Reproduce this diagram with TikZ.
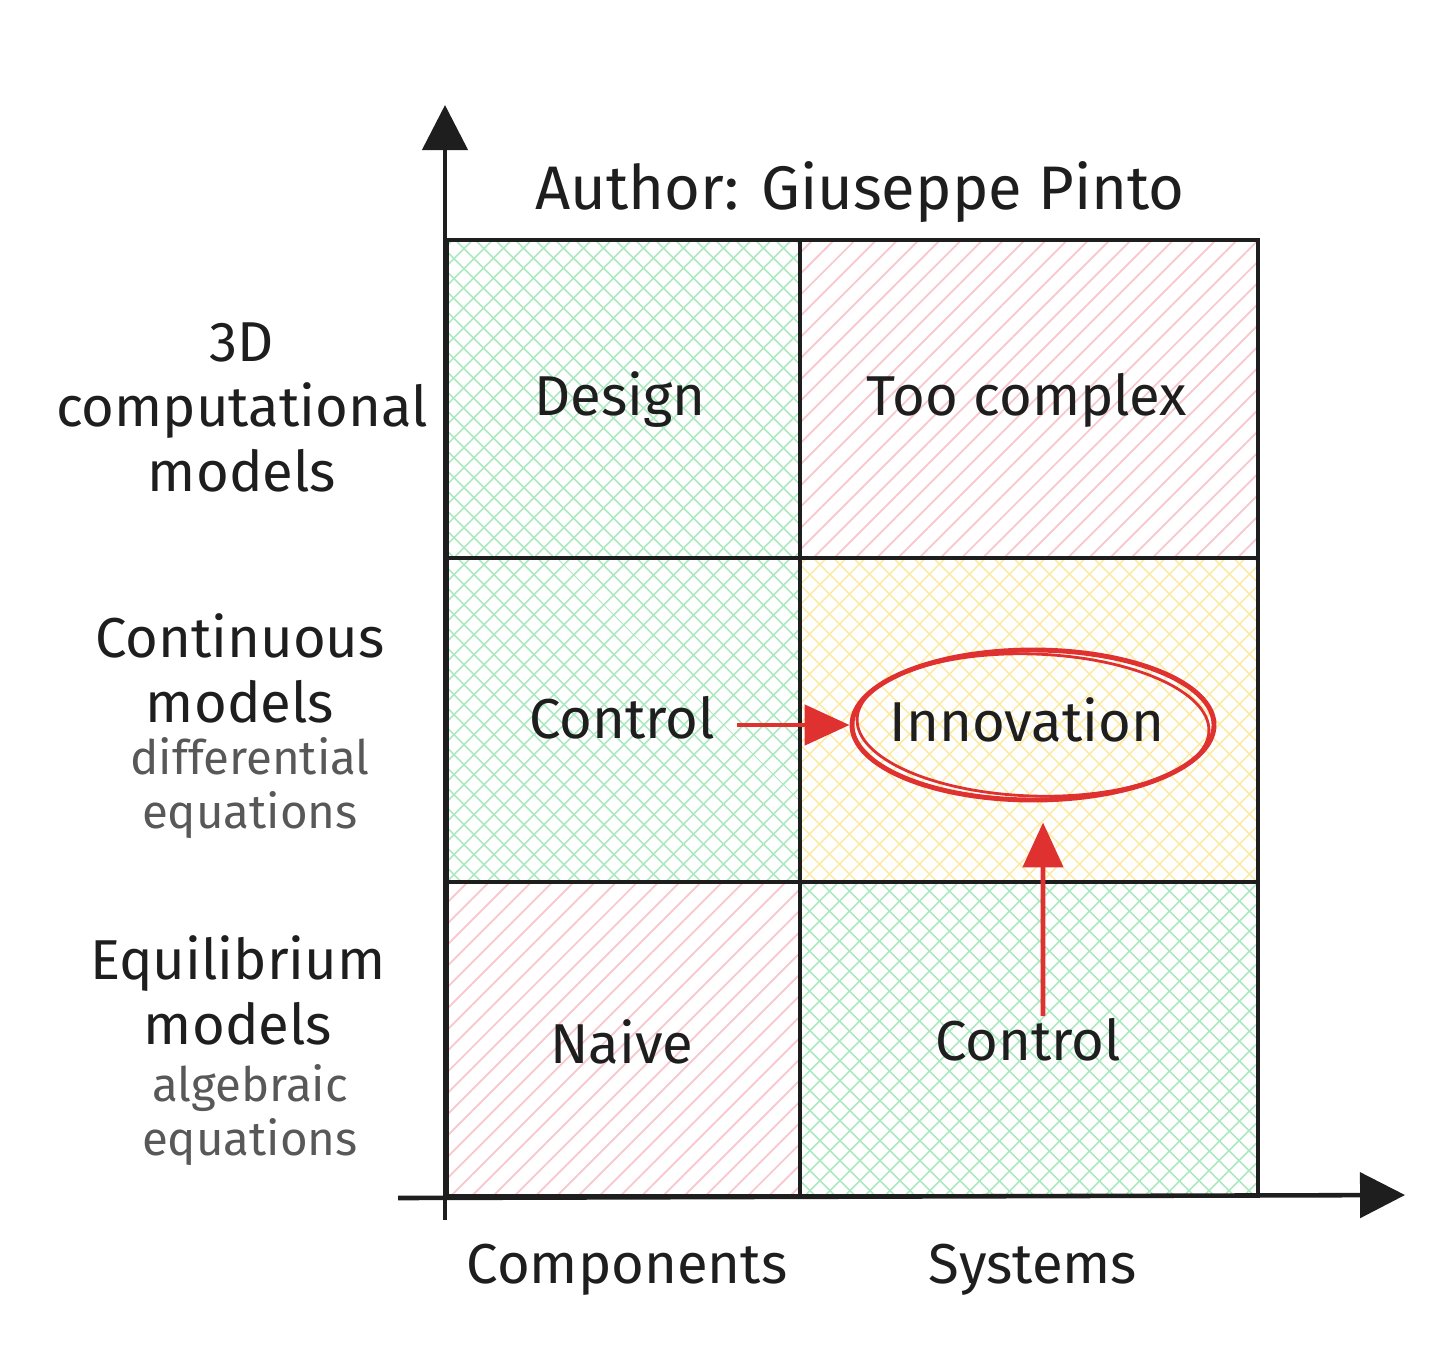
\documentclass[tikz,border=0pt]{standalone}
\usepackage{fontspec}
\setmainfont{Fira Sans}
\usetikzlibrary{arrows.meta,patterns.meta,shapes.geometric}
\definecolor{hgreen}{RGB}{172,232,192}
\definecolor{hpink}{RGB}{248,198,204}
\definecolor{hyellow}{RGB}{252,234,168}
\definecolor{sred}{RGB}{224,49,49}
\definecolor{sgray}{RGB}{88,88,88}
\definecolor{sblack}{RGB}{30,30,30}
\tikzset{
  gridline/.style={draw=sblack,line width=1pt},
  axisline/.style={draw=sblack,line width=1.3pt,-{Triangle[length=4.5mm,width=4.5mm]}},
  redarrow/.style={draw=sred,line width=1.4pt,-{Triangle[length=4.5mm,width=4mm]}},
  celltext/.style={font=\fontsize{16}{19}\selectfont,text=sblack},
  rowtext/.style={font=\fontsize{16}{18.5}\selectfont,text=sblack,align=center},
  subtext/.style={font=\fontsize{13.5}{15.5}\selectfont,text=sgray,align=center}
}
\begin{document}
\begin{tikzpicture}
\useasboundingbox (0,0) rectangle (14.56,-13.71);
% hatching of the cells
\foreach \xa/\ya/\xb/\yb/\col in {4.47/-2.40/8.00/-5.58/hgreen, 4.47/-5.58/8.00/-8.82/hgreen, 8.00/-5.58/12.58/-8.82/hyellow, 8.00/-8.82/12.58/-11.96/hgreen} {
  \fill[pattern={Lines[angle=45,distance=0.14cm,line width=0.5pt]},pattern color=\col] (\xa,\ya) rectangle (\xb,\yb);
  \fill[pattern={Lines[angle=-45,distance=0.14cm,line width=0.5pt]},pattern color=\col] (\xa,\ya) rectangle (\xb,\yb);
}
\foreach \xa/\ya/\xb/\yb in {8.00/-2.40/12.58/-5.58, 4.47/-8.82/8.00/-11.96} {
  \fill[pattern={Lines[angle=45,distance=0.15cm,line width=0.5pt]},pattern color=hpink] (\xa,\ya) rectangle (\xb,\yb);
}
% grid
\draw[gridline] (4.47,-2.40) rectangle (12.58,-11.96);
\draw[gridline] (8.00,-2.40) -- (8.00,-11.96);
\draw[gridline] (4.47,-5.58) -- (12.58,-5.58);
\draw[gridline] (4.47,-8.82) -- (12.58,-8.82);
% axes
\coordinate (ybot) at (4.45,-12.20);
\coordinate (ytop) at (4.45,-1.05);
\coordinate (xleft) at (3.98,-11.98);
\coordinate (xright) at (14.05,-11.95);
\draw[axisline] (ybot) -- (ytop);
\draw[axisline] (xleft) -- (xright);
% title
\node[celltext,font=\fontsize{17.5}{20}\selectfont] (title) at (8.60,-1.92) {Author: Giuseppe Pinto};
% row labels
\node[rowtext] (row3d) at (2.42,-4.07) {3D\\computational\\models};
\node[rowtext] (rowcont) at (2.40,-6.68) {Continuous\\models};
\node[subtext] (subcont) at (2.50,-7.88) {differential\\equations};
\node[rowtext] (roweq) at (2.38,-9.90) {Equilibrium\\models};
\node[subtext] (subeq) at (2.50,-11.15) {algebraic\\equations};
% column labels
\node[celltext] (colcomp) at (6.27,-12.70) {Components};
\node[celltext] (colsys) at (10.33,-12.70) {Systems};
% cells
\node[celltext] (design) at (6.20,-4.00) {Design};
\node[celltext] (toocomplex) at (10.27,-4.00) {Too complex};
\node[celltext] (ctrlcomp) at (6.22,-7.18) {Control};
\node[celltext] (naive) at (6.22,-10.42) {Naive};
\node[celltext] (ctrlsys) at (10.28,-10.40) {Control};
% innovation ring
\node[ellipse,draw=sred,line width=1.4pt,minimum width=3.62cm,minimum height=1.50cm] (innov) at (10.33,-7.25) {};
\draw[sred,line width=0.8pt,rotate around={-2:(innov.center)}] (innov.center) ellipse (1.76cm and 0.71cm);
\node[celltext] (innovtext) at (10.27,-7.20) {Innovation};
% arrows into the ring
\draw[redarrow] ([xshift=1mm]ctrlcomp.east |- innov.west) -- (innov.west);
\draw[redarrow] ([xshift=1.5mm,yshift=-1mm]ctrlsys.north) -- ([xshift=1mm,yshift=-2mm]innov.south);
\end{tikzpicture}
\end{document}
